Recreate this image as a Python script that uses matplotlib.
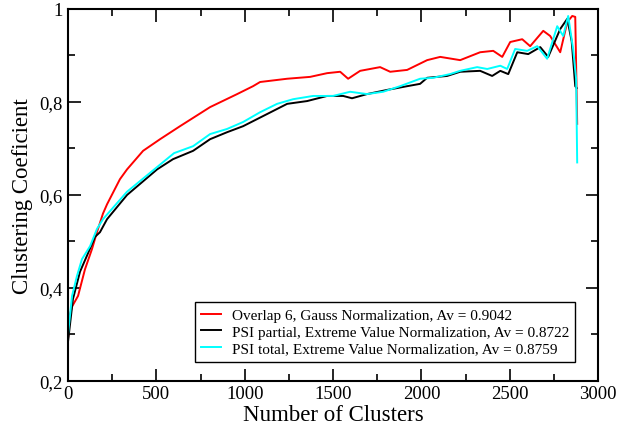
import matplotlib
matplotlib.use('Agg')
import matplotlib.pyplot as plt
from matplotlib.ticker import MultipleLocator, FuncFormatter

plt.rcParams['font.family'] = ['Liberation Serif', 'DejaVu Serif']

# Overlap 6, Gauss normalization
red_x = [0, 10, 23, 57, 96, 136, 164, 198, 221, 294, 334, 425, 521, 634, 804, 957,
         1047, 1087, 1240, 1370, 1466, 1540, 1585, 1653, 1766, 1823, 1919, 2032, 2106,
         2219, 2332, 2406, 2457, 2502, 2570, 2615, 2689, 2728, 2785, 2825, 2853, 2870, 2881]
red_y = [0.29, 0.34, 0.36, 0.383, 0.44, 0.484, 0.52, 0.56, 0.58, 0.634, 0.655, 0.695, 0.72,
         0.748, 0.789, 0.817, 0.834, 0.843, 0.85, 0.854, 0.862, 0.865, 0.85, 0.867, 0.875,
         0.865, 0.869, 0.89, 0.897, 0.89, 0.907, 0.91, 0.897, 0.929, 0.935, 0.92, 0.953,
         0.942, 0.907, 0.972, 0.985, 0.983, 0.753]

# PSI partial, extreme value normalization
blk_x = [0, 28, 68, 108, 153, 181, 221, 334, 504, 594, 708, 804, 900, 991, 1126, 1240,
         1353, 1466, 1557, 1607, 1692, 1806, 1919, 1992, 2032, 2145, 2219, 2332, 2400,
         2446, 2491, 2542, 2604, 2672, 2717, 2785, 2825, 2850, 2870, 2878]
blk_y = [0.284, 0.376, 0.435, 0.47, 0.51, 0.52, 0.548, 0.60, 0.655, 0.677, 0.695, 0.72,
         0.735, 0.748, 0.774, 0.796, 0.802, 0.813, 0.813, 0.808, 0.817, 0.826, 0.834, 0.839,
         0.852, 0.856, 0.865, 0.867, 0.856, 0.867, 0.86, 0.907, 0.903, 0.918, 0.897, 0.957,
         0.979, 0.93, 0.834, 0.83]

# PSI total, extreme value normalization
cyn_x = [0, 23, 51, 79, 125, 164, 198, 334, 504, 600, 708, 804, 900, 991, 1087, 1183,
         1274, 1387, 1500, 1596, 1692, 1783, 1879, 1992, 2066, 2162, 2219, 2315, 2372,
         2446, 2485, 2530, 2598, 2655, 2711, 2768, 2802, 2830, 2858, 2875, 2881]
cyn_y = [0.30, 0.383, 0.426, 0.462, 0.49, 0.527, 0.548, 0.607, 0.66, 0.69, 0.705, 0.731,
         0.742, 0.757, 0.778, 0.796, 0.806, 0.813, 0.813, 0.822, 0.817, 0.822, 0.834, 0.85,
         0.852, 0.86, 0.867, 0.875, 0.871, 0.878, 0.871, 0.914, 0.91, 0.92, 0.893, 0.963,
         0.942, 0.985, 0.914, 0.85, 0.67]

labels = ['Overlap 6, Gauss Normalization, Av = 0.9042',
          'PSI partial, Extreme Value Normalization, Av = 0.8722',
          'PSI total, Extreme Value Normalization, Av = 0.8759']

fig = plt.figure(figsize=(6.18, 4.27), dpi=100)
ax = fig.add_axes([0.110, 0.1054, 0.858, 0.8712])

ax.plot(red_x, red_y, color='red', lw=1.4, label=labels[0])
ax.plot(blk_x, blk_y, color='black', lw=1.4, label=labels[1])
ax.plot(cyn_x, cyn_y, color='cyan', lw=1.4, label=labels[2])

ax.set_xlim(0, 3000)
ax.set_ylim(0.2, 1.0)
ax.xaxis.set_major_locator(MultipleLocator(500))
ax.xaxis.set_minor_locator(MultipleLocator(250))
ax.yaxis.set_major_locator(MultipleLocator(0.2))
ax.yaxis.set_minor_locator(MultipleLocator(0.1))
ax.yaxis.set_major_formatter(FuncFormatter(
    lambda v, p: '1' if abs(v - 1) < 1e-9 else ('%.1f' % v).replace('.', ',')))

ax.tick_params(which='both', direction='in', top=True, right=True, labelsize=13.5)
ax.tick_params(axis='x', pad=3)
ax.tick_params(axis='y', pad=4)
ax.tick_params(which='major', length=9, width=1.2)
ax.tick_params(which='minor', length=5, width=1.2)
for s in ax.spines.values():
    s.set_linewidth(1.5)

ax.set_xlabel('Number of Clusters', fontsize=16.5, labelpad=1)
ax.set_ylabel('Clustering Coeficient', fontsize=16.5, labelpad=4)

leg = ax.legend(loc='lower right', bbox_to_anchor=(0.957, 0.052), fontsize=11,
                fancybox=False, framealpha=1, edgecolor='black', handlelength=1.3,
                borderpad=0.4, labelspacing=0.2, handletextpad=0.7, borderaxespad=0)
leg.get_frame().set_linewidth(1.0)

plt.savefig('out.png', dpi=100)
